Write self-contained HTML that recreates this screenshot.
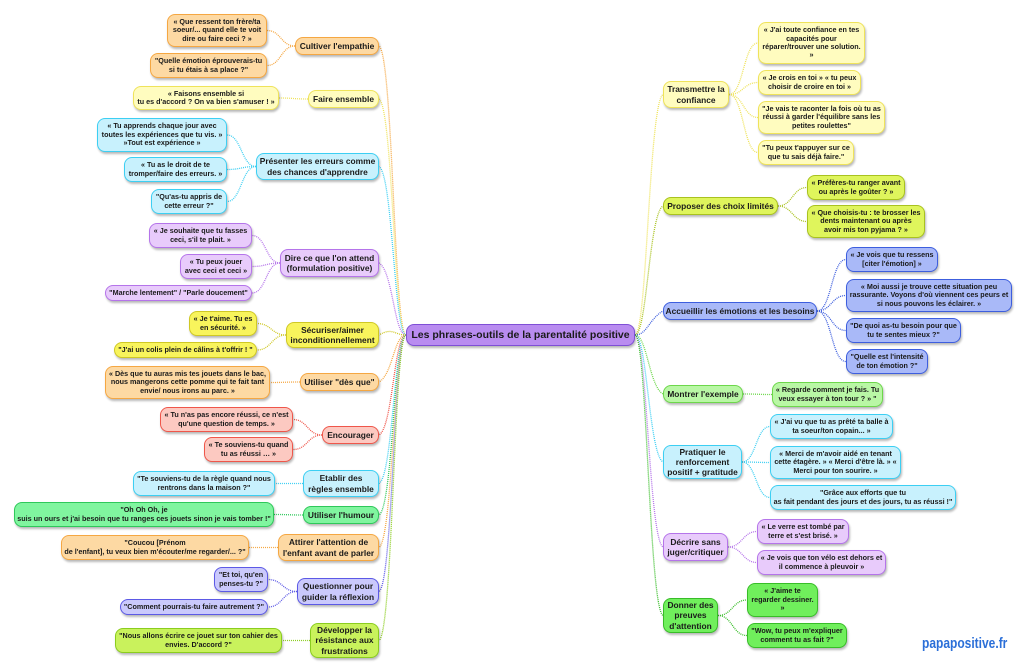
<!DOCTYPE html>
<html><head><meta charset="utf-8">
<style>
html,body{margin:0;padding:0;background:#fff;}
#w{position:relative;width:1024px;height:672px;overflow:hidden;font-family:"Liberation Sans",sans-serif;}
svg{position:absolute;left:0;top:0;}
.n{position:absolute;box-sizing:border-box;border:1.5px solid;border-radius:8px;display:flex;align-items:center;justify-content:center;text-align:center;font-weight:bold;font-size:7.2px;line-height:1.18;color:#1a1a1a;box-shadow:1px 2px 2px rgba(0,0,0,.28);padding:0 1px;white-space:nowrap;}
.m{font-size:8.4px;line-height:1.2;}
.or{background:#fdd9a3;border-color:#f5a742;}
.ly{background:#fffcbf;border-color:#efe35a;}
.cy{background:#c8f1fd;border-color:#3ccff3;}
.pu{background:#e8cbfb;border-color:#b574ea;}
.ye{background:#f8f45c;border-color:#cfc824;}
.re{background:#fcc9c1;border-color:#ef564a;}
.gr{background:#80f59f;border-color:#2ec85a;}
.bv{background:#cac9fc;border-color:#5c59e6;}
.li{background:#c9f25c;border-color:#8bcd1e;}
.lp{background:#dff55c;border-color:#a9c21f;}
.bl{background:#a9b9f8;border-color:#3d5ede;}
.lg{background:#b9f7a5;border-color:#6dd74b;}
.dg{background:#70ef5c;border-color:#38bd28;}
.ce{background:#b98cf0;border-color:#7f4fd6;font-size:10.5px;}
</style></head><body><div id="w">
<svg id="s" width="1024" height="672"></svg>

<div class="n ce" id="C" style="left:406px;top:324px;width:229px;height:22px;">Les phrases-outils de la parentalité positive</div>

<!-- LEFT -->
<div class="n m or" id="L1" style="left:295px;top:37px;width:84px;height:18px;">Cultiver l'empathie</div>
<div class="n or" id="L1a" style="left:167px;top:14px;width:100px;height:33px;">« Que ressent ton frère/ta<br>soeur/... quand elle te voit<br>dire ou faire ceci ? »</div>
<div class="n or" id="L1b" style="left:150px;top:53px;width:117px;height:25px;">"Quelle émotion éprouverais-tu<br>si tu étais à sa place ?"</div>

<div class="n m ly" id="L2" style="left:308px;top:90px;width:71px;height:18px;">Faire ensemble</div>
<div class="n ly" id="L2a" style="left:133px;top:86px;width:146px;height:24px;">« Faisons ensemble si<br>tu es d'accord ? On va bien s'amuser ! »</div>

<div class="n m cy" id="L3" style="left:256px;top:153px;width:123px;height:27px;">Présenter les erreurs comme<br>des chances d'apprendre</div>
<div class="n cy" id="L3a" style="left:97px;top:118px;width:130px;height:34px;">« Tu apprends chaque jour avec<br>toutes les expériences que tu vis. »<br>»Tout est expérience »</div>
<div class="n cy" id="L3b" style="left:124px;top:157px;width:103px;height:25px;">« Tu as le droit de te<br>tromper/faire des erreurs. »</div>
<div class="n cy" id="L3c" style="left:151px;top:189px;width:76px;height:25px;">"Qu'as-tu appris de<br>cette erreur ?"</div>

<div class="n m pu" id="L4" style="left:280px;top:249px;width:99px;height:28px;">Dire ce que l'on attend<br>(formulation positive)</div>
<div class="n pu" id="L4a" style="left:149px;top:223px;width:103px;height:25px;">« Je souhaite que tu fasses<br>ceci, s'il te plait. »</div>
<div class="n pu" id="L4b" style="left:180px;top:254px;width:72px;height:25px;">« Tu peux jouer<br>avec ceci et ceci »</div>
<div class="n pu" id="L4c" style="left:105px;top:285px;width:147px;height:16px;">"Marche lentement" / "Parle doucement"</div>

<div class="n m ye" id="L5" style="left:286px;top:322px;width:93px;height:26px;">Sécuriser/aimer<br>inconditionnellement</div>
<div class="n ye" id="L5a" style="left:189px;top:311px;width:68px;height:25px;">« Je t'aime. Tu es<br>en sécurité. »</div>
<div class="n ye" id="L5b" style="left:114px;top:342px;width:143px;height:16px;">"J'ai un colis plein de câlins à t'offrir ! "</div>

<div class="n m or" id="L6" style="left:300px;top:373px;width:79px;height:18px;">Utiliser "dès que"</div>
<div class="n or" id="L6a" style="left:105px;top:366px;width:165px;height:33px;">« Dès que tu auras mis tes jouets dans le bac,<br>nous mangerons cette pomme qui te fait tant<br>envie/ nous irons au parc. »</div>

<div class="n m re" id="L7" style="left:322px;top:426px;width:57px;height:18px;">Encourager</div>
<div class="n re" id="L7a" style="left:160px;top:407px;width:133px;height:25px;">« Tu n'as pas encore réussi, ce n'est<br>qu'une question de temps. »</div>
<div class="n re" id="L7b" style="left:204px;top:437px;width:89px;height:25px;">« Te souviens-tu quand<br>tu as réussi … »</div>

<div class="n m cy" id="L8" style="left:303px;top:470px;width:76px;height:27px;">Etablir des<br>règles ensemble</div>
<div class="n cy" id="L8a" style="left:133px;top:471px;width:142px;height:25px;">"Te souviens-tu de la règle quand nous<br>rentrons dans la maison ?"</div>

<div class="n m gr" id="L9" style="left:303px;top:506px;width:76px;height:18px;">Utiliser l'humour</div>
<div class="n gr" id="L9a" style="left:14px;top:502px;width:260px;height:25px;">"Oh Oh Oh, je<br>suis un ours et j'ai besoin que tu ranges ces jouets sinon je vais tomber !"</div>

<div class="n m or" id="L10" style="left:278px;top:534px;width:101px;height:27px;">Attirer l'attention de<br>l'enfant avant de parler</div>
<div class="n or" id="L10a" style="left:61px;top:535px;width:188px;height:25px;">"Coucou [Prénom<br>de l'enfant], tu veux bien m'écouter/me regarder/... ?"</div>

<div class="n m bv" id="L11" style="left:297px;top:578px;width:82px;height:27px;">Questionner pour<br>guider la réflexion</div>
<div class="n bv" id="L11a" style="left:214px;top:567px;width:54px;height:25px;">"Et toi, qu'en<br>penses-tu ?"</div>
<div class="n bv" id="L11b" style="left:120px;top:599px;width:148px;height:16px;">"Comment pourrais-tu faire autrement ?"</div>

<div class="n m li" id="L12" style="left:310px;top:623px;width:69px;height:35px;">Développer la<br>résistance aux<br>frustrations</div>
<div class="n li" id="L12a" style="left:115px;top:628px;width:167px;height:25px;">"Nous allons écrire ce jouet sur ton cahier des<br>envies. D'accord ?"</div>

<!-- RIGHT -->
<div class="n m ly" id="R1" style="left:663px;top:81px;width:66px;height:27px;">Transmettre la<br>confiance</div>
<div class="n ly" id="R1a" style="left:758px;top:22px;width:107px;height:42px;">« J'ai toute confiance en tes<br>capacités pour<br>réparer/trouver une solution.<br>»</div>
<div class="n ly" id="R1b" style="left:758px;top:70px;width:103px;height:25px;">« Je crois en toi » « tu peux<br>choisir de croire en toi »</div>
<div class="n ly" id="R1c" style="left:758px;top:101px;width:127px;height:33px;">"Je vais te raconter la fois où tu as<br>réussi à garder l'équilibre sans les<br>petites roulettes"</div>
<div class="n ly" id="R1d" style="left:758px;top:140px;width:96px;height:25px;">"Tu peux t'appuyer sur ce<br>que tu sais déjà faire."</div>

<div class="n m lp" id="R2" style="left:663px;top:197px;width:115px;height:18px;">Proposer des choix limités</div>
<div class="n lp" id="R2a" style="left:807px;top:175px;width:98px;height:25px;">« Préfères-tu ranger avant<br>ou après le goûter ? »</div>
<div class="n lp" id="R2b" style="left:807px;top:205px;width:118px;height:33px;">« Que choisis-tu : te brosser les<br>dents maintenant ou après<br>avoir mis ton pyjama ? »</div>

<div class="n m bl" id="R3" style="left:663px;top:302px;width:154px;height:18px;">Accueillir les émotions et les besoins</div>
<div class="n bl" id="R3a" style="left:846px;top:247px;width:92px;height:25px;">« Je vois que tu ressens<br>[citer l'émotion] »</div>
<div class="n bl" id="R3b" style="left:846px;top:279px;width:166px;height:33px;">« Moi aussi je trouve cette situation peu<br>rassurante. Voyons d'où viennent ces peurs et<br>si nous pouvons les éclairer. »</div>
<div class="n bl" id="R3c" style="left:846px;top:318px;width:115px;height:25px;">"De quoi as-tu besoin pour que<br>tu te sentes mieux ?"</div>
<div class="n bl" id="R3d" style="left:846px;top:349px;width:82px;height:25px;">"Quelle est l'intensité<br>de ton émotion ?"</div>

<div class="n m lg" id="R4" style="left:663px;top:385px;width:80px;height:18px;">Montrer l'exemple</div>
<div class="n lg" id="R4a" style="left:772px;top:382px;width:111px;height:25px;">« Regarde comment je fais. Tu<br>veux essayer à ton tour ? » "</div>

<div class="n m cy" id="R5" style="left:663px;top:445px;width:79px;height:34px;">Pratiquer le<br>renforcement<br>positif + gratitude</div>
<div class="n cy" id="R5a" style="left:770px;top:414px;width:123px;height:25px;">« J'ai vu que tu as prêté ta balle à<br>ta soeur/ton copain... »</div>
<div class="n cy" id="R5b" style="left:770px;top:446px;width:131px;height:33px;">« Merci de m'avoir aidé en tenant<br>cette étagère. » « Merci d'être là. » «<br>Merci pour ton sourire. »</div>
<div class="n cy" id="R5c" style="left:770px;top:485px;width:186px;height:25px;">"Grâce aux efforts que tu<br>as fait pendant des jours et des jours, tu as réussi !"</div>

<div class="n m pu" id="R6" style="left:663px;top:533px;width:65px;height:28px;">Décrire sans<br>juger/critiquer</div>
<div class="n pu" id="R6a" style="left:757px;top:519px;width:92px;height:25px;">« Le verre est tombé par<br>terre et s'est brisé. »</div>
<div class="n pu" id="R6b" style="left:757px;top:550px;width:129px;height:25px;">« Je vois que ton vélo est dehors et<br>il commence à pleuvoir »</div>

<div class="n m dg" id="R7" style="left:663px;top:598px;width:55px;height:35px;">Donner des<br>preuves<br>d'attention</div>
<div class="n dg" id="R7a" style="left:747px;top:583px;width:71px;height:34px;">« J'aime te<br>regarder dessiner.<br>»</div>
<div class="n dg" id="R7b" style="left:747px;top:623px;width:100px;height:25px;">"Wow, tu peux m'expliquer<br>comment tu as fait ?"</div>

<div style="position:absolute;left:922px;top:635px;font-family:'Liberation Sans',sans-serif;font-weight:bold;font-size:15px;color:#2b6fd8;transform:scaleX(0.8);transform-origin:0 0;white-space:nowrap;">papapositive.fr</div>
</div>
<script>
(function(){
var s=document.getElementById('s');
function box(id){var e=document.getElementById(id);return {l:e.offsetLeft,t:e.offsetTop,r:e.offsetLeft+e.offsetWidth,b:e.offsetTop+e.offsetHeight,cy:e.offsetTop+e.offsetHeight/2,col:getComputedStyle(e).borderTopColor};}
function path(d,col){var p=document.createElementNS('http://www.w3.org/2000/svg','path');p.setAttribute('d',d);p.setAttribute('fill','none');p.setAttribute('stroke',col);p.setAttribute('stroke-width','1.3');p.setAttribute('stroke-dasharray','1 1');s.appendChild(p);}
var C=box('C');
var mains=['L1','L2','L3','L4','L5','L6','L7','L8','L9','L10','L11','L12','R1','R2','R3','R4','R5','R6','R7'];
mains.forEach(function(id){
  var m=box(id);
  if(id[0]=='L'){
    var x0=C.l,y0=C.cy,x1=m.r,y1=m.cy;
    path('M'+x0+','+y0+' C'+(x0-12)+','+y0+' '+(x1+14)+','+(y1+(y1<y0?8:-8))+' '+x1+','+y1,m.col);
  }else{
    var x0=C.r,y0=C.cy,x1=m.l,y1=m.cy;
    path('M'+x0+','+y0+' C'+(x0+12)+','+y0+' '+(x1-14)+','+(y1+(y1<y0?8:-8))+' '+x1+','+y1,m.col);
  }
  var k='abcd';
  for(var i=0;i<4;i++){
    var e=document.getElementById(id+k[i]);if(!e)break;
    var c=box(id+k[i]);
    if(id[0]=='L'){
      var a=m.l,ay=m.cy,b=c.r,by=c.cy,mx=(a+b)/2;
      path('M'+a+','+ay+' C'+mx+','+ay+' '+mx+','+by+' '+b+','+by,m.col);
    }else{
      var a=m.r,ay=m.cy,b=c.l,by=c.cy,mx=(a+b)/2;
      path('M'+a+','+ay+' C'+mx+','+ay+' '+mx+','+by+' '+b+','+by,m.col);
    }
  }
});
})();
</script>
</body></html>
